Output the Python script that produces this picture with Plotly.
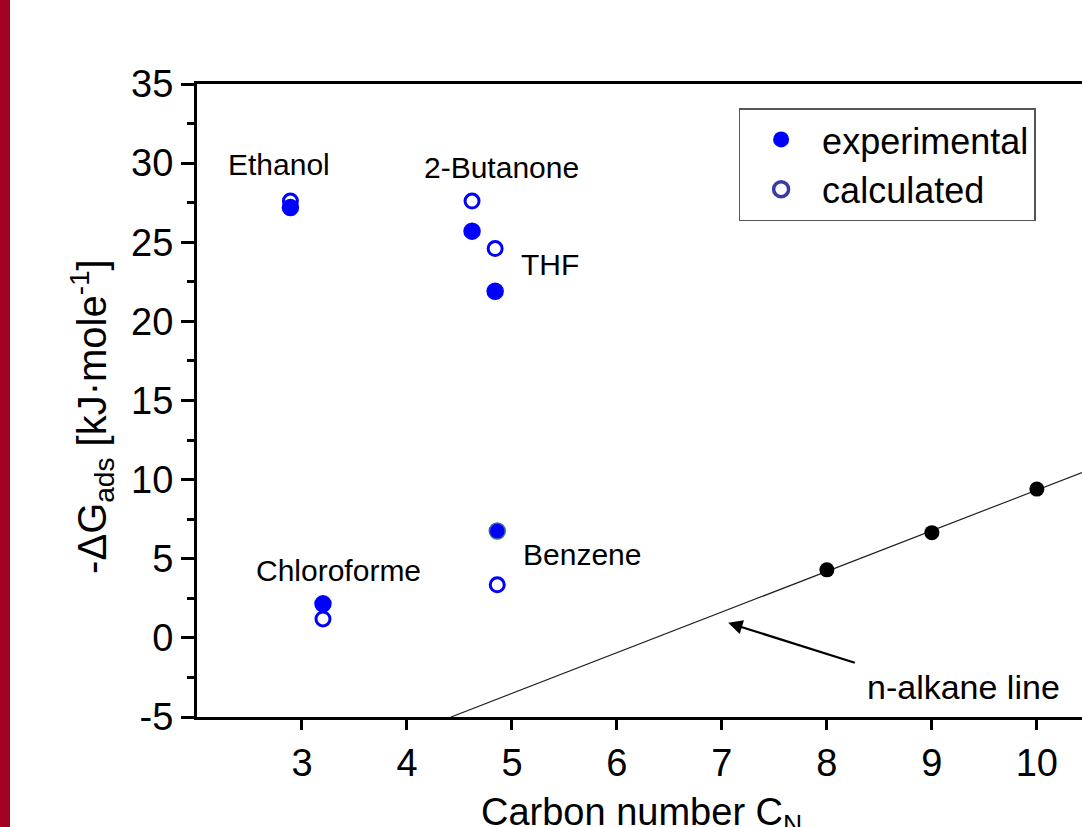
import plotly.graph_objects as go

FONT = "Liberation Sans, Arial, Helvetica, sans-serif"

# ---- data ----
solvents = ["Ethanol", "2-Butanone", "THF", "Benzene", "Chloroforme"]
x_exp = [2.89, 4.62, 4.84, 4.86, 3.20]
y_exp = [27.2, 25.7, 21.9, 6.75, 2.15]
x_calc = [2.89, 4.62, 4.84, 4.86, 3.20]
y_calc = [27.6, 27.6, 24.6, 3.35, 1.2]

alkane_x = [8, 9, 10]
alkane_y = [4.3, 6.65, 9.4]

line_x = [4.42, 10.43]
line_y = [-5.0, 10.45]

label_text = ["Ethanol", "2-Butanone", "THF", "Chloroforme", "Benzene"]
label_x = [2.78, 4.905, 5.36, 3.35, 5.67]
label_y = [29.9, 29.7, 23.6, 4.23, 5.3]

arrow_label = "n-alkane line"
arrow_label_xy = (9.30, -3.1)
arrow_tip = (7.06, 0.95)
arrow_tail = (8.28, -1.6)

x_ticks = [3, 4, 5, 6, 7, 8, 9, 10]
y_ticks = [-5, 0, 5, 10, 15, 20, 25, 30, 35]
y_ticktext = ["-5", "0", "5", "10", "15", "20", "25", "30", "35"]

BLUE = "#0000ff"

fig = go.Figure()

# n-alkane line
fig.add_trace(go.Scatter(x=line_x, y=line_y, mode="lines",
                         line=dict(color="#222222", width=1.2),
                         showlegend=False, hoverinfo="skip"))
# n-alkane points
fig.add_trace(go.Scatter(x=alkane_x, y=alkane_y, mode="markers",
                         marker=dict(color="black", size=15, line=dict(width=0)),
                         showlegend=False))
# calculated (open)
fig.add_trace(go.Scatter(x=x_calc, y=y_calc, mode="markers",
                         marker=dict(color="white", size=14, symbol="circle",
                                     line=dict(color=BLUE, width=3)),
                         showlegend=False))
# experimental (filled)
exp_line_colors = [BLUE, BLUE, BLUE, "#3a6f8f", BLUE]
fig.add_trace(go.Scatter(x=x_exp, y=y_exp, mode="markers",
                         marker=dict(color=BLUE, size=16,
                                     line=dict(color=exp_line_colors, width=1.5)),
                         showlegend=False))

# legend entries
fig.add_trace(go.Scatter(x=[None], y=[None], mode="markers", name="experimental",
                         marker=dict(color=BLUE, size=16, line=dict(width=0))))
fig.add_trace(go.Scatter(x=[None], y=[None], mode="markers", name="calculated",
                         marker=dict(color="white", size=15,
                                     line=dict(color="#3a3aa6", width=3.5))))

annotations = []
for t, x, y in zip(label_text, label_x, label_y):
    annotations.append(dict(x=x, y=y, xref="x", yref="y", text=t, showarrow=False,
                            font=dict(family=FONT, size=30, color="black"),
                            xanchor="center", yanchor="middle"))
annotations.append(dict(x=arrow_label_xy[0], y=arrow_label_xy[1], xref="x", yref="y",
                        text=arrow_label, showarrow=False,
                        font=dict(family=FONT, size=34, color="black"),
                        xanchor="center", yanchor="middle"))
annotations.append(dict(x=arrow_tip[0], y=arrow_tip[1], xref="x", yref="y",
                        ax=arrow_tail[0], ay=arrow_tail[1], axref="x", ayref="y",
                        text="", showarrow=True, arrowhead=2, arrowsize=1.3,
                        arrowwidth=2.2, arrowcolor="black"))
# axis titles
annotations.append(dict(x=-0.118, y=0.475, xref="paper", yref="paper",
                        text="-ΔG<sub>ads</sub> [kJ·mole<sup>-1</sup>]",
                        textangle=-90, showarrow=False,
                        font=dict(family=FONT, size=40, color="black"),
                        xanchor="center", yanchor="middle"))
annotations.append(dict(x=0.502, y=-0.196, xref="paper", yref="paper",
                        text="Carbon number C<sub>N</sub>", showarrow=False,
                        font=dict(family=FONT, size=38, color="black"),
                        xanchor="center", yanchor="bottom"))

shapes = [dict(type="rect", xref="paper", yref="paper",
               x0=-197 / 885, x1=-187 / 885, y0=-110 / 633, y1=717 / 633,
               fillcolor="#a50026", line=dict(width=0), layer="above")]

fig.update_layout(
    width=1082, height=827,
    margin=dict(l=197, r=0, t=84, b=110),
    paper_bgcolor="white", plot_bgcolor="white",
    font=dict(family=FONT, color="black"),
    annotations=annotations,
    shapes=shapes,
    legend=dict(x=0.612, y=0.962, xanchor="left", yanchor="top",
                bordercolor="#555555", borderwidth=1.5, bgcolor="white",
                font=dict(family=FONT, size=36, color="black"),
                itemwidth=72),
)

fig.update_xaxes(range=[2, 10.43], tickvals=x_ticks, ticks="outside", ticklen=10,
                 tickwidth=2.5, tickcolor="black", showline=True, linewidth=3,
                 linecolor="black", mirror=True, showgrid=False, zeroline=False,
                 tickfont=dict(family=FONT, size=38, color="black"),
                 ticklabelstandoff=0)
fig.update_yaxes(range=[-5, 35], tickvals=y_ticks, ticktext=y_ticktext,
                 ticks="outside", ticklen=13,
                 tickwidth=2.5, tickcolor="black", showline=True, linewidth=3,
                 linecolor="black", mirror=False, showgrid=False, zeroline=False,
                 tickfont=dict(family=FONT, size=38, color="black"),
                 minor=dict(ticks="outside", ticklen=7, tickwidth=2.5,
                            tickcolor="black", dtick=2.5, tick0=-5, showgrid=False))

fig.write_html("out.html")
